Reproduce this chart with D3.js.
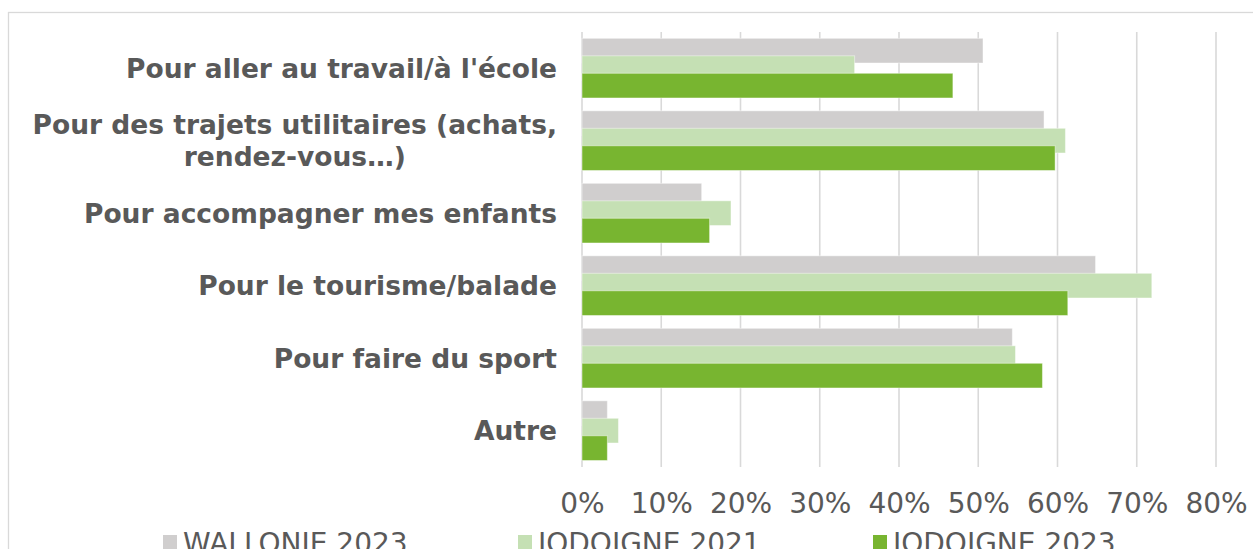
<!DOCTYPE html>
<html>
<head>
<meta charset="utf-8">
<script src="https://cdn.jsdelivr.net/npm/d3@7/dist/d3.min.js"></script>
<style>
  html, body { margin: 0; padding: 0; background: #fff; overflow: hidden; }
  svg { display: block; }
</style>
</head>
<body>
<svg id="chart" width="1253" height="549"></svg>
<script>
// Motifs d'utilisation du vélo (% des répondants)
const categories = [
  ["Pour aller au travail/à l'école"],
  ["Pour des trajets utilitaires (achats,", "rendez-vous…)"],
  ["Pour accompagner mes enfants"],
  ["Pour le tourisme/balade"],
  ["Pour faire du sport"],
  ["Autre"]
];
const seriesNames = ["WALLONIE 2023", "JODOIGNE 2021", "JODOIGNE 2023"];
const wallonie2023 = [50.6, 58.3, 15.1, 64.8, 54.3, 3.2];
const jodoigne2021 = [34.4, 61.0, 18.8, 71.9, 54.7, 4.6];
const jodoigne2023 = [46.8, 59.7, 16.1, 61.3, 58.1, 3.2];
const tickValues = [0, 10, 20, 30, 40, 50, 60, 70, 80];

const seriesValues = [wallonie2023, jodoigne2021, jodoigne2023];
const colors = ["#D0CECE", "#C5E0B4", "#78B530"];
const textColor = "#595959";
const font = "'DejaVu Sans', Verdana, sans-serif";

const svg = d3.select("#chart");

// Chart frame
svg.append("rect")
  .attr("x", 8.5).attr("y", 12.5)
  .attr("width", 1400).attr("height", 700)
  .attr("fill", "#fff").attr("stroke", "#D9D9D9").attr("stroke-width", 1.3);

const x = d3.scaleLinear().domain([0, 80]).range([582, 1216]);
const catKeys = categories.map((c, i) => i);
const y = d3.scaleBand().domain(catKeys).range([31.9, 466.9])
  .paddingInner(0.177).paddingOuter(0.0885);

const barH = 24.7;
const inner = d3.scaleBand().domain(d3.range(seriesNames.length))
  .range([0, y.bandwidth() - barH + (y.bandwidth() - barH) / 2]);

// Vertical gridlines
svg.append("g").selectAll("line").data(tickValues).join("line")
  .attr("x1", d => x(d)).attr("x2", d => x(d))
  .attr("y1", y.range()[0]).attr("y2", y.range()[1])
  .attr("stroke", "#D9D9D9").attr("stroke-width", 1.6);

// Bars (each series overlaps the previous one)
seriesValues.forEach((vals, s) => {
  svg.append("g").selectAll("rect").data(vals).join("rect")
    .attr("x", x(0))
    .attr("y", (d, i) => y(i) + inner(s))
    .attr("width", d => x(d) - x(0))
    .attr("height", barH)
    .attr("fill", colors[s])
    .attr("stroke", "#fff").attr("stroke-opacity", 0.45).attr("stroke-width", 1);
});

// Category labels: block right-aligned to the axis, wrapped lines centred within it
const labelRight = 557;
const labels = svg.append("g")
  .attr("font-family", font).attr("font-weight", "bold")
  .attr("font-size", 26.5).attr("fill", textColor);
categories.forEach((lines, i) => {
  const cy = y(i) + y.bandwidth() / 2;
  const lh = 32;
  const nodes = lines.map((t, j) => labels.append("text")
    .attr("y", cy + (j - (lines.length - 1) / 2) * lh)
    .attr("dy", "0.36em")
    .text(t));
  const widest = d3.max(nodes, n => n.node().getComputedTextLength());
  nodes.forEach(n => n.attr("text-anchor", "middle").attr("x", labelRight - widest / 2));
});

// X axis tick labels
const xAxis = d3.axisBottom(x).tickValues(tickValues).tickFormat(d => d + "%").tickSize(0);
const gx = svg.append("g").attr("transform", "translate(0,466)").call(xAxis);
gx.select(".domain").remove();
gx.selectAll("text")
  .attr("font-family", font).attr("font-size", 28).attr("fill", textColor)
  .attr("y", 46.7).attr("dy", 0);

// Legend
const legend = svg.append("g");
seriesNames.forEach((name, i) => {
  const lx = 163 + i * 355;
  legend.append("rect").attr("x", lx).attr("y", 535).attr("width", 14).attr("height", 14)
    .attr("fill", colors[i]);
  legend.append("text").attr("x", lx + 20).attr("y", 552.5)
    .attr("font-family", font).attr("font-size", 28).attr("fill", textColor)
    .text(name);
});
</script>
</body>
</html>
